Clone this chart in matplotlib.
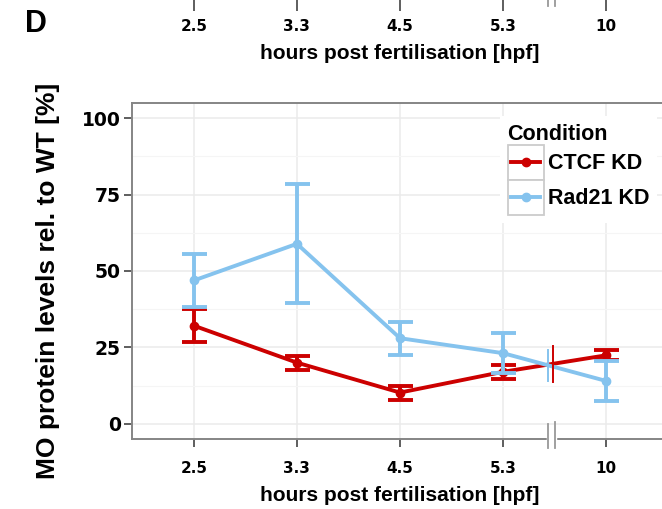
import numpy as np
import matplotlib
matplotlib.use('Agg')
import matplotlib.pyplot as plt
import matplotlib.transforms as mtransforms
from matplotlib.legend_handler import HandlerBase
from matplotlib.lines import Line2D
from matplotlib.patches import Rectangle

plt.rcParams['font.family'] = ['Liberation Sans', 'DejaVu Sans']
plt.rcParams['font.weight'] = 'bold'

# MO protein levels (% of WT) per time point, mean and error bar ends
hpf = ['2.5', '3.3', '4.5', '5.3', '10']
ctcf_mean = [32.1, 20.0, 10.2, 17.0, 22.4]
ctcf_low = [26.6, 17.7, 7.8, 14.7, 20.8]
ctcf_high = [37.6, 22.3, 12.5, 19.3, 24.0]
rad21_mean = [46.9, 58.9, 28.0, 23.1, 14.0]
rad21_low = [38.3, 39.4, 22.4, 16.6, 7.5]
rad21_high = [55.6, 78.4, 33.4, 29.7, 20.5]
conditions = ['CTCF KD', 'Rad21 KD']

RED = '#CC0000'
BLUE = '#85C3EE'
SPINE = '#858585'
LW = 2.8
TICKFONT = 'DejaVu Sans'

W, H = 662, 509
fig = plt.figure(figsize=(W / 100, H / 100), dpi=100)

x = np.arange(1, len(hpf) + 1)
xlim = (0.4, 5.6)
brk = 4.47

# pixel layout of the main panel
px_l, px_r, px_t, px_b = 132, 668, 103, 439
ax = fig.add_axes([px_l / W, 1 - px_b / H, (px_r - px_l) / W, (px_b - px_t) / H])

def yerr(mean, low, high):
    mean = np.array(mean)
    return [mean - np.array(low), np.array(high) - mean]

ax.errorbar(x, ctcf_mean, yerr=yerr(ctcf_mean, ctcf_low, ctcf_high), color=RED,
            fmt='-o', lw=LW, ms=6, capsize=9, capthick=LW, elinewidth=LW, zorder=3)
ax.errorbar(x, rad21_mean, yerr=yerr(rad21_mean, rad21_low, rad21_high), color=BLUE,
            fmt='-o', lw=LW, ms=6, capsize=9, capthick=LW, elinewidth=LW, zorder=4)

# little bars where each line crosses the axis break
for vals, col, dx, half in [(ctcf_mean, RED, 0.01, 6.0), (rad21_mean, BLUE, -0.035, 5.0)]:
    yb = np.interp(brk + dx, x, vals)
    ax.plot([brk + dx, brk + dx], [yb - half, yb + half], color=col, lw=1.4, zorder=5)

ax.set_xlim(*xlim)
ax.set_ylim(-5, 105)
ax.set_xticks(x)
ax.set_xticklabels(hpf, fontfamily=TICKFONT, fontsize=11, fontweight='bold')
ax.set_yticks([0, 25, 50, 75, 100])
ax.set_yticklabels(['0', '25', '50', '75', '100'], fontfamily=TICKFONT, fontsize=13.5,
                   fontweight='bold')
ax.set_yticks([12.5, 37.5, 62.5, 87.5], minor=True)
ax.grid(which='major', color='#EBEBEB', lw=1.1, zorder=0)
ax.grid(which='minor', axis='y', color='#F5F5F5', lw=0.8, zorder=0)
ax.set_axisbelow(True)
ax.tick_params(which='minor', length=0)
ax.tick_params(axis='both', which='major', colors='#333333', length=6, width=1.1,
               labelcolor='black')
ax.tick_params(axis='y', pad=2)
ax.tick_params(axis='x', pad=10)
for side in ['left', 'top', 'bottom', 'right']:
    ax.spines[side].set_color(SPINE)
    ax.spines[side].set_linewidth(1.4)
ax.set_xlabel('hours post fertilisation [hpf]', fontsize=15, fontweight='bold', labelpad=7)

# axis break on the bottom spine
bt = mtransforms.blended_transform_factory(ax.transData, ax.transAxes)
ax.plot([brk - 0.03, brk + 0.03], [0, 0], color='white', lw=2.5, transform=bt,
        clip_on=False, zorder=6)
for xb, y0, y1 in [(brk - 0.03, -0.027, 0.045), (brk + 0.03, -0.027, 0.052)]:
    ax.plot([xb, xb], [y0, y1], color='#999999', lw=1.3, transform=bt,
            clip_on=False, zorder=7)

# legend with boxed keys
class BoxedKey(HandlerBase):
    def create_artists(self, legend, orig_handle, xdescent, ydescent, width, height,
                       fontsize, trans):
        x0, y0 = -xdescent, -ydescent
        box = Rectangle((x0, y0), width, height, facecolor='white', edgecolor='#CCCCCC',
                        lw=1.3, transform=trans)
        pad = 0.1 * width
        ym = y0 + height / 2
        line = Line2D([x0 + pad, x0 + width - pad], [ym, ym], color=orig_handle.get_color(),
                      lw=LW, transform=trans)
        dot = Line2D([x0 + width / 2], [ym], marker='o', ms=6, color=orig_handle.get_color(),
                     transform=trans)
        return [box, line, dot]

handles = [Line2D([], [], color=RED), Line2D([], [], color=BLUE)]
leg = ax.legend(handles, conditions, title='Condition', loc='upper left',
                bbox_to_anchor=(500 / W, 1 - 116 / H), bbox_transform=fig.transFigure,
                borderaxespad=0, borderpad=0.35, handlelength=1.68, handleheight=2.14,
                handletextpad=0.2, labelspacing=0, alignment='left', fancybox=False,
                prop={'size': 15.5, 'weight': 'bold'},
                title_fontproperties={'size': 15.5, 'weight': 'bold'},
                handler_map={Line2D: BoxedKey()})
leg.get_frame().set_facecolor('white')
leg.get_frame().set_edgecolor('none')
leg.get_frame().set_alpha(1)

fig.text(48 / W, 1 - 281 / H, 'MO protein levels rel. to WT [%]', rotation=90,
         ha='center', va='center', fontsize=19, fontweight='bold')

# bottom edge of the panel above, sharing the same time axis
ax_top = fig.add_axes([px_l / W, 1 + 2 / H, (px_r - px_l) / W, 0.05])
ax_top.set_xlim(*xlim)
ax_top.set_xticks(x)
ax_top.set_xticklabels(hpf, fontfamily=TICKFONT, fontsize=11, fontweight='bold')
ax_top.set_yticks([])
for side in ax_top.spines:
    ax_top.spines[side].set_visible(False)
ax_top.patch.set_visible(False)
ax_top.tick_params(axis='x', colors='#333333', length=9, width=1.1, labelcolor='black',
                   pad=6)
ax_top.set_xlabel('hours post fertilisation [hpf]', fontsize=15, fontweight='bold',
                  labelpad=7)
tt = mtransforms.blended_transform_factory(ax_top.transData, ax_top.transAxes)
for xb in [brk - 0.03, brk + 0.03]:
    ax_top.plot([xb, xb], [-0.3, 0], color='#999999', lw=1.3, transform=tt, clip_on=False)

fig.text(25 / W, 1 - 24 / H, 'D', ha='left', va='center', fontsize=22, fontweight='bold')

fig.savefig('out.png', dpi=100)
